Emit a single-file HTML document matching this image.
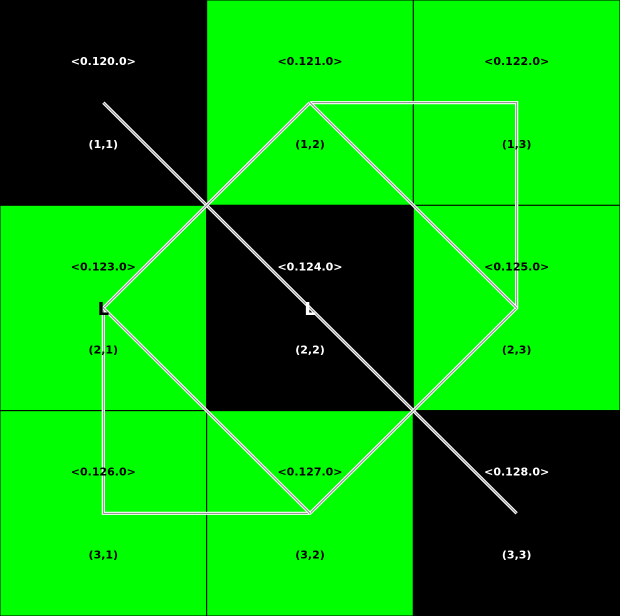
<!DOCTYPE html>
<html><head><meta charset="utf-8"><style>
html,body{margin:0;padding:0;background:#000;}
svg{display:block;}
text{font-family:"DejaVu Sans","Liberation Sans",sans-serif;font-weight:bold;}
</style></head><body>
<svg id="chart" width="620" height="616" xmlns="http://www.w3.org/2000/svg"></svg>
<script>
const rows = [1,2,3];
const cols = [1,2,3];
const values = [[120,121,122],[123,124,125],[126,127,128]];
const fills = [["black","green","green"],["green","black","green"],["green","green","black"]];
const diagPath = [[1,1],[3,3]];
const loopPath = [[1,2],[1,3],[2,3],[3,2],[3,1],[2,1],[1,2]];
const extraPath1 = [[2,1],[3,2]];
const extraPath2 = [[2,3],[1,2]];
const markers = [[2,1],[2,2]];
const markerLabel = "L";

const W=620,H=616,cw=W/3,ch=H/3;
const svg=document.getElementById('chart');
const NS='http://www.w3.org/2000/svg';
function cx(c){return (c-1)*cw+cw/2;}
function cy(r){return (r-1)*ch+ch/2;}
function mk(t,a){const e=document.createElementNS(NS,t);for(const k in a)e.setAttribute(k,a[k]);svg.appendChild(e);return e;}

rows.forEach((r,i)=>cols.forEach((c,j)=>{
  const isB=fills[i][j]==="black";
  const rect=mk('rect',{x:(c-1)*cw,y:(r-1)*ch,width:cw,height:ch,fill:isB?'#000':'#00ff00',stroke:'#000','stroke-width':1});
  
  
}));

function drawPath(p,name){
  const pts=p.map(q=>cx(q[1])+','+cy(q[0])).join(' ');
  const a=mk('polyline',{points:pts,fill:'none',stroke:'#fff','stroke-width':3.2,'stroke-linejoin':'miter'});
  
  
  const b=mk('polyline',{points:pts,fill:'none',stroke:'#888','stroke-width':1});
  
  
}
drawPath(diagPath,'diagonal-path');
drawPath(loopPath,'loop-path');
drawPath(extraPath1,'diagonal-path-lower');
drawPath(extraPath2,'diagonal-path-upper');

rows.forEach((r,i)=>cols.forEach((c,j)=>{
  const isB=fills[i][j]==="black";
  const col=isB?'#fff':'#000';
  const t1=mk('text',{x:cx(c),y:(r-1)*ch+65,'text-anchor':'middle','font-size':11,fill:col});
  t1.textContent='<0.'+String(values[i][j]).padStart(3,'0')+'.0>';
  
  
  const t2=mk('text',{x:cx(c),y:(r-1)*ch+148,'text-anchor':'middle','font-size':11,fill:col});
  t2.textContent='('+r+','+c+')';
  
  
}));

markers.forEach(m=>{
  const isB=fills[m[0]-1][m[1]-1]==="black";
  const t=mk('text',{x:cx(m[1]),y:cy(m[0])+7,'text-anchor':'middle','font-size':18,fill:isB?'#fff':'#000'});
  t.textContent=markerLabel;
  
  
});
</script>
</body></html>
